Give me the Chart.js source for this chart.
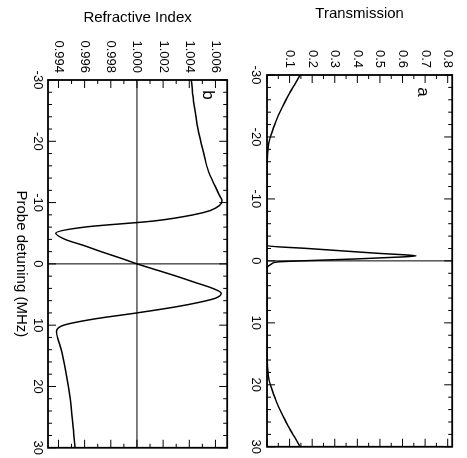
<!DOCTYPE html>
<html>
<head>
<meta charset="utf-8">
<script src="https://cdn.jsdelivr.net/npm/chart.js@4/dist/chart.umd.min.js"></script>
<style>
html,body{margin:0;padding:0;background:#fff;overflow:hidden;width:467px;height:458px;}
#rot{position:absolute;left:0;top:0;width:458px;height:467px;transform-origin:0 0;transform:translate(467px,0) rotate(90deg);}
#wa{position:absolute;left:0;top:0;width:458px;height:225px;}
#wb{position:absolute;left:0;top:225px;width:458px;height:242px;}
canvas{display:block;}
</style>
</head>
<body>
<div id="rot">
  <div id="wa"><canvas id="ca" width="458" height="225"></canvas></div>
  <div id="wb"><canvas id="cb" width="458" height="242"></canvas></div>
</div>
<script>
// ---- data ----
const detuningTicks = [-30, -20, -10, 0, 10, 20, 30];

const detuningT = [-30, -29, -28, -27, -26, -25, -24, -23, -22, -21, -20, -19, -18, -16, -12, -6, -3,
  -2.45, -2.0, -1.6, -1.2, -0.95, -0.8, -0.64, -0.32, 0, 0.16, 0.5, 0.96, 1.5, 3, 6, 12, 16,
  18, 19, 20, 21, 22, 23, 24, 25, 26, 27, 28, 29, 30];
const transmission = [0.147, 0.131, 0.115, 0.099, 0.084, 0.070, 0.057, 0.045, 0.034, 0.024, 0.015, 0.008, 0.004, 0.001, 0, 0, 0,
  0.0, 0.18, 0.34, 0.50, 0.62, 0.66, 0.60, 0.40, 0.15, 0.05, 0.02, 0.003, 0, 0, 0, 0, 0.001,
  0.004, 0.008, 0.015, 0.024, 0.034, 0.045, 0.057, 0.070, 0.084, 0.099, 0.115, 0.131, 0.147];
const transmissionTicks = [0.1, 0.2, 0.3, 0.4, 0.5, 0.6, 0.7, 0.8];
const transmissionTickLabels = ['0.1', '0.2', '0.3', '0.4', '0.5', '0.6', '0.7', '0.8'];
const transmissionRange = [0, 0.82];

const detuningN = [-30, -26, -22, -18, -15, -13, -11, -10.3, -9.5, -8.7, -8, -7, -6, -5, -4, -3, -2, -1, 0,
  1, 2, 3, 4, 4.8, 5.6, 6.3, 7, 8, 9, 10, 11, 12, 14, 18, 22, 26, 30];
const refractiveIndex = [1.00415, 1.00437, 1.00467, 1.00511, 1.00548, 1.00590, 1.00635, 1.00650, 1.00630, 1.00560, 1.00430, 1.00130, 0.99600, 0.99380, 0.99450, 0.99593, 0.99726, 0.99867, 1.00000,
  1.00150, 1.00300, 1.00440, 1.00580, 1.00645, 1.00600, 1.00470, 1.00300, 1.00000, 0.99670, 0.99440, 0.99385, 0.99393, 0.99422, 0.99460, 0.99490, 0.99510, 0.99526];
const indexTicks = [0.994, 0.996, 0.998, 1.000, 1.002, 1.004, 1.006];
const indexTickLabels = ['0.994', '0.996', '0.998', '1.000', '1.002', '1.004', '1.006'];
const indexRange = [0.9932, 1.0069];
const detuningRange = [-30, 30];

// ---- helpers ----
Chart.defaults.font.family = "'Liberation Sans', Arial, Helvetica, sans-serif";
Chart.defaults.color = '#000';

const zip = (xs, ys) => xs.map((x, i) => ({x, y: ys[i]}));

const framePlugin = {
  id: 'frameTicks',
  afterDatasetsDraw(chart, args, o) {
    const {ctx, chartArea: a, scales: {x, y}} = chart;
    ctx.save();
    ctx.strokeStyle = '#000';
    ctx.lineWidth = 1;
    const seg = (x1, y1, x2, y2) => { ctx.beginPath(); ctx.moveTo(x1, y1); ctx.lineTo(x2, y2); ctx.stroke(); };
    const nx = Math.round((x.max - x.min) / o.xMinor);
    for (let i = 0; i <= nx; i++) {
      const v = x.min + i * o.xMinor;
      const r = v / o.xMajor;
      const major = Math.abs(r - Math.round(r)) < 1e-6;
      const L = major ? 8 : 4;
      const p = x.getPixelForValue(v);
      seg(p, a.bottom, p, a.bottom - L);
      seg(p, a.top, p, a.top + L);
    }
    const start = Math.ceil(y.min / o.yMinor - 1e-6);
    const end = Math.floor(y.max / o.yMinor + 1e-6);
    for (let k = start; k <= end; k++) {
      const v = k * o.yMinor;
      const r = v / o.yMajor;
      const major = Math.abs(r - Math.round(r)) < 1e-6;
      const L = major ? 8 : 4;
      const p = y.getPixelForValue(v);
      seg(a.left, p, a.left + L, p);
      seg(a.right, p, a.right - L, p);
    }
    ctx.lineWidth = 1.8;
    ctx.strokeRect(a.left, a.top, a.right - a.left, a.bottom - a.top);
    ctx.font = "17px 'Liberation Sans', Arial, sans-serif";
    ctx.fillStyle = '#000';
    ctx.textAlign = 'center';
    ctx.textBaseline = 'middle';
    ctx.fillText(o.letter, a.left + o.letterDx, a.top + o.letterDy);
    ctx.restore();
  }
};

function xScale(heightPx, withTitle, tickPad) {
  return {
    type: 'linear', min: detuningRange[0], max: detuningRange[1],
    afterBuildTicks: s => { s.ticks = detuningTicks.map(v => ({value: v})); },
    afterFit: s => { s.height = heightPx; },
    grid: {display: false, drawTicks: false},
    border: {display: false},
    ticks: {font: {size: 13}, padding: tickPad, maxRotation: 0, autoSkip: false, callback: v => String(v)},
    title: withTitle ? {display: true, text: 'Probe detuning (MHz)', font: {size: 15}, padding: {top: 0, bottom: 12}} : {display: false}
  };
}
function yScale(range, ticks, labels, widthPx, title, titlePad) {
  return {
    type: 'linear', min: range[0], max: range[1],
    afterBuildTicks: s => { s.ticks = ticks.map(v => ({value: v})); },
    afterFit: s => { s.width = widthPx; },
    grid: {display: false, drawTicks: false},
    border: {display: false},
    ticks: {font: {size: 13}, padding: 7, autoSkip: false, callback: (v, i) => labels[i]},
    title: {display: true, text: title, font: {size: 15}, padding: {top: titlePad, bottom: 0}}
  };
}
const lineStyle = {borderColor: '#000', borderWidth: 1.5, pointRadius: 0, fill: false, cubicInterpolationMode: 'monotone'};
const refStyle = {borderColor: '#000', borderWidth: 1, pointRadius: 0, fill: false, tension: 0};

new Chart(document.getElementById('ca'), {
  type: 'line',
  data: {datasets: [
    Object.assign({label: 'Transmission', data: zip(detuningT, transmission)}, lineStyle),
    Object.assign({label: 'zero detuning', data: [{x: 0, y: transmissionRange[0]}, {x: 0, y: transmissionRange[1]}]}, refStyle)
  ]},
  options: {
    responsive: false, animation: false, devicePixelRatio: 1,
    layout: {padding: {top: 9, right: 9, left: 0, bottom: 0}},
    plugins: {legend: {display: false}, tooltip: {enabled: false},
      frameTicks: {xMajor: 10, xMinor: 2, yMajor: 0.1, yMinor: 0.05, letter: 'a', letterDx: 17, letterDy: 30}},
    scales: {
      x: xScale(25, false, 4),
      y: yScale(transmissionRange, transmissionTicks, transmissionTickLabels, 75, 'Transmission', 5)
    }
  },
  plugins: [framePlugin]
});

new Chart(document.getElementById('cb'), {
  type: 'line',
  data: {datasets: [
    Object.assign({label: 'Refractive Index', data: zip(detuningN, refractiveIndex)}, lineStyle),
    Object.assign({label: 'zero detuning', data: [{x: 0, y: indexRange[0]}, {x: 0, y: indexRange[1]}]}, refStyle),
    Object.assign({label: 'n = 1', data: [{x: detuningRange[0], y: 1}, {x: detuningRange[1], y: 1}]}, refStyle)
  ]},
  options: {
    responsive: false, animation: false, devicePixelRatio: 1,
    layout: {padding: {top: 9, right: 9, left: 0, bottom: 0}},
    plugins: {legend: {display: false}, tooltip: {enabled: false},
      frameTicks: {xMajor: 10, xMinor: 2, yMajor: 0.002, yMinor: 0.001, letter: 'b', letterDx: 15, letterDy: 20}},
    scales: {
      x: xScale(48, true, 3),
      y: yScale(indexRange, indexTicks, indexTickLabels, 80, 'Refractive Index', 9)
    }
  },
  plugins: [framePlugin]
});
</script>
</body>
</html>
